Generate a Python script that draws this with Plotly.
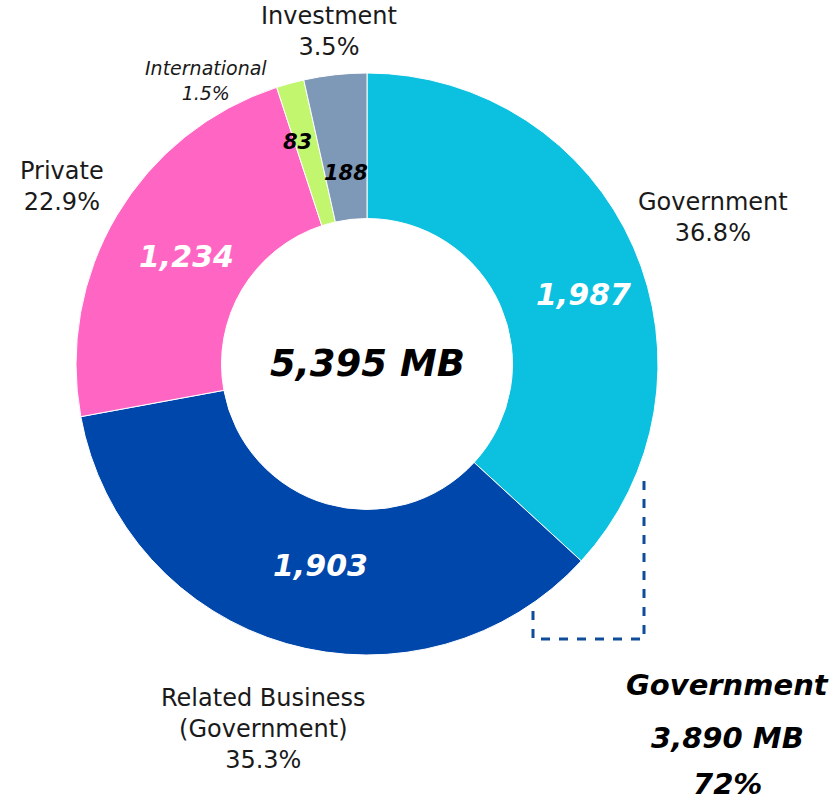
import math
import plotly.graph_objects as go

categories = ["Government", "Related Business<br>(Government)", "Private", "International", "Investment"]
values = [1987, 1903, 1234, 83, 188]
colors = ["#0CC0DF", "#0047AB", "#FF66C4", "#C1F66E", "#7E98B8"]
value_font_colors = ["white", "white", "white", "black", "black"]
total_label = "5,395 MB"
summary_lines = ["Government", "3,890 MB", "72%"]

W, H = 836, 802
CX, CY, R = 367, 364, 291
FONT = "'DejaVu Sans', sans-serif"

def px(x):
    return x / W

def py(y):
    return 1 - y / H

total = sum(values)

fig = go.Figure()
fig.add_trace(go.Pie(
    labels=categories,
    values=values,
    sort=False,
    direction="clockwise",
    rotation=0,
    hole=0.5,
    marker=dict(colors=colors, line=dict(color="white", width=1)),
    textinfo="none",
    hoverinfo="label+value+percent",
    showlegend=False,
    domain=dict(x=[px(CX - R), px(CX + R)], y=[py(CY + R), py(CY - R)]),
))

annotations = []
# value labels inside slices, positioned from cumulative angles
radius_frac = [0.78, 0.71, 0.72, 0.8, 0.66]
angle_shift = [6, -3, 0, -2, 0]
cum = 0
for v, fc, rf, da in zip(values, value_font_colors, radius_frac, angle_shift):
    mid = (cum + v / 2) / total * 2 * math.pi + math.radians(da)
    cum += v
    x = CX + math.sin(mid) * R * rf
    y = CY - math.cos(mid) * R * rf
    annotations.append(dict(
        x=px(x), y=py(y), xref="paper", yref="paper",
        text=f"<b><i>{v:,}</i></b>", showarrow=False,
        font=dict(family=FONT, size=30 if v > 500 else 21, color=fc),
        xanchor="center", yanchor="middle",
    ))

# outside category labels
label_pos = [(713, 217), (263, 729), (62, 187), (206, 81), (329, 32)]
for i, (cat, v) in enumerate(zip(categories, values)):
    pct = v / total * 100
    if cat == "International":
        text = f"<i>{cat}</i><br><i>{pct:.1f}%</i>"
        size = 19
    else:
        text = f"{cat}<br>{pct:.1f}%"
        size = 24
    x, y = label_pos[i]
    annotations.append(dict(
        x=px(x), y=py(y), xref="paper", yref="paper",
        text=text, showarrow=False,
        font=dict(family=FONT, size=size, color="#1a1a1a"),
        xanchor="center", yanchor="middle", align="center",
    ))

# center total
annotations.append(dict(
    x=px(CX), y=py(CY), xref="paper", yref="paper",
    text=f"<b><i>{total_label}</i></b>", showarrow=False,
    font=dict(family=FONT, size=37, color="black"),
    xanchor="center", yanchor="middle",
))

# summary block bottom right
for line, yy in zip(summary_lines, [685, 738, 784]):
    annotations.append(dict(
        x=px(727), y=py(yy), xref="paper", yref="paper",
        text=f"<b><i>{line}</i></b>", showarrow=False,
        font=dict(family=FONT, size=29, color="black"),
        xanchor="center", yanchor="middle",
    ))

shapes = [dict(
    type="path", xref="paper", yref="paper",
    path=f"M {px(644)} {py(481)} L {px(644)} {py(639)} L {px(533)} {py(639)} L {px(533)} {py(606)}",
    line=dict(color="#0F4C9A", width=3, dash="dash"),
)]

fig.update_layout(
    width=W, height=H,
    margin=dict(l=0, r=0, t=0, b=0),
    paper_bgcolor="white", plot_bgcolor="white",
    annotations=annotations, shapes=shapes,
)

fig.write_html("out.html", config={"displayModeBar": False},
               post_script="document.body.style.margin='0px';")
